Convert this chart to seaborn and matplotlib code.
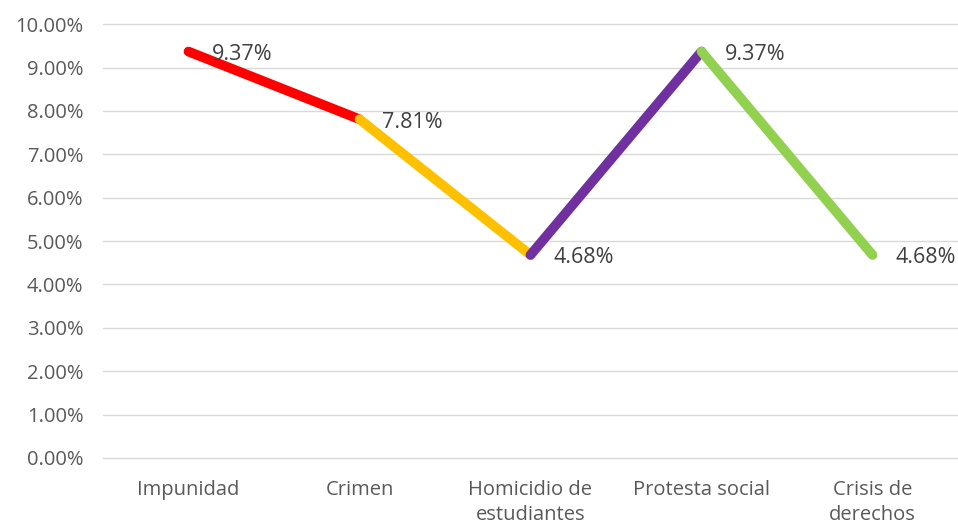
import pandas as pd
import matplotlib
matplotlib.use("Agg")
import matplotlib.pyplot as plt
from matplotlib.ticker import PercentFormatter
import seaborn as sns

categories = ["Impunidad", "Crimen", "Homicidio de\nestudiantes", "Protesta social", "Crisis de\nderechos"]
values = [0.0937, 0.0781, 0.0468, 0.0937, 0.0468]
labels = ["9.37%", "7.81%", "4.68%", "9.37%", "4.68%"]
segment_colors = ["#FF0000", "#FFC000", "#7030A0", "#92D050"]

sns.set_theme(style="white")
plt.rcParams["font.family"] = ["Open Sans", "DejaVu Sans"]

# one row per segment end point, so each segment gets its own colour
rows = []
for i in range(len(values) - 1):
    for j in (i, i + 1):
        rows.append({"seg": i, "x": j, "y": values[j]})
df = pd.DataFrame(rows)

fig = plt.figure(figsize=(9.58, 5.27), dpi=100)
ax = fig.add_axes([0.1075, 0.131, 0.8925, 0.823])

sns.lineplot(data=df, x="x", y="y", hue="seg", palette=segment_colors,
             linewidth=7, legend=False, ax=ax, sort=False)
for line in ax.lines:
    line.set_solid_capstyle("round")
    line.set_solid_joinstyle("round")

for i, (v, lab) in enumerate(zip(values, labels)):
    ax.annotate(lab, (i, v), xytext=(23, -3), textcoords="offset pixels",
                ha="left", va="center", fontsize=15.5, color="#404040")

ax.set_xlim(-0.5, len(categories) - 0.5)
ax.set_ylim(0, 0.10)
ax.set_yticks([k / 100 for k in range(11)])
ax.yaxis.set_major_formatter(PercentFormatter(1.0, decimals=2))
ax.set_xticks(range(len(categories)))
ax.set_xticklabels(categories, linespacing=1.35)
ax.tick_params(axis="both", length=0, labelsize=14.5, labelcolor="#595959")
ax.tick_params(axis="y", pad=14)
ax.tick_params(axis="x", pad=16)
ax.grid(axis="y", color="#D9D9D9", linewidth=1)
for gl in ax.get_ygridlines():
    gl.set_clip_on(False)
ax.set_axisbelow(True)
for s in ax.spines.values():
    s.set_visible(False)
ax.set_xlabel("")
ax.set_ylabel("")

fig.savefig("out.png", dpi=100)
